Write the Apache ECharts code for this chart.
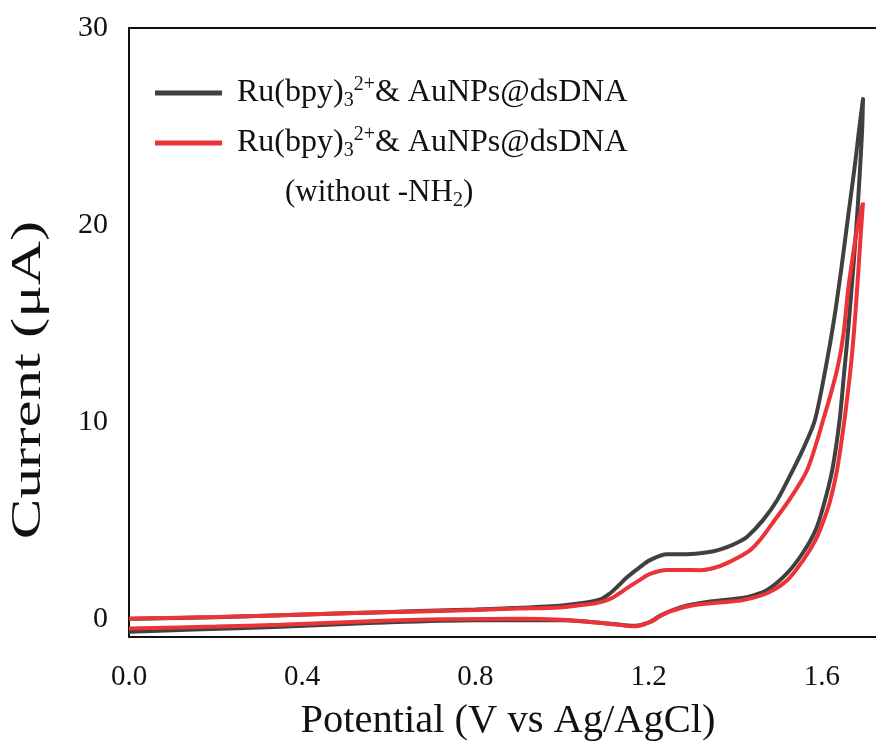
<!DOCTYPE html>
<html>
<head>
<meta charset="utf-8">
<script src="https://cdn.jsdelivr.net/npm/echarts@6/dist/echarts.min.js"></script>
<style>
  html, body { margin: 0; padding: 0; background: #fff; }
  #box { width: 876px; height: 753px; }
</style>
</head>
<body>
<div id="box"></div>
<script>
// forward scan (0 -> 1.7 V) and reverse scan (1.7 -> 0 V), [potential, current]
var blackForward = [
  [0, 0.02], [0.2, 0.1], [0.35, 0.2], [0.5, 0.3], [0.67, 0.42], [0.8, 0.5],
  [0.9, 0.58], [1.0, 0.7], [1.06, 0.86], [1.09, 1.02], [1.11, 1.3], [1.13, 1.7],
  [1.15, 2.13], [1.18, 2.65], [1.203, 3.0], [1.242, 3.3], [1.28, 3.3], [1.319, 3.35],
  [1.35, 3.45], [1.381, 3.66], [1.41, 3.95], [1.427, 4.17], [1.464, 5.03], [1.497, 6.05],
  [1.533, 7.57], [1.56, 8.8], [1.584, 10.11], [1.61, 12.9], [1.628, 15.19], [1.645, 17.8],
  [1.661, 20.5], [1.677, 23.17], [1.686, 24.85], [1.695, 26.4]
]
var blackReverse = [
  [1.695, 26.4], [1.693, 24.85], [1.689, 23.2], [1.683, 21.0], [1.676, 18.8], [1.668, 16.6],
  [1.660, 14.5], [1.651, 12.4], [1.641, 10.11], [1.624, 7.57], [1.603, 5.7], [1.585, 4.5],
  [1.557, 3.4], [1.520, 2.34], [1.473, 1.47], [1.44, 1.2], [1.411, 1.07], [1.342, 0.9],
  [1.30, 0.75], [1.273, 0.6], [1.25, 0.42], [1.226, 0.18], [1.21, -0.05], [1.196, -0.2],
  [1.18, -0.3], [1.164, -0.33], [1.12, -0.24], [1.072, -0.15], [1.0, -0.05], [0.8, -0.05],
  [0.57, -0.18], [0.35, -0.38], [0.15, -0.52], [0, -0.64]
]
var redForward = [
  [0, 0.03], [0.2, 0.12], [0.35, 0.2], [0.5, 0.3], [0.67, 0.4], [0.8, 0.47],
  [0.9, 0.54], [0.995, 0.6], [1.04, 0.71], [1.08, 0.82], [1.11, 1.02], [1.13, 1.28],
  [1.15, 1.58], [1.18, 2.0], [1.203, 2.3], [1.242, 2.5], [1.28, 2.5], [1.319, 2.49],
  [1.35, 2.6], [1.381, 2.85], [1.434, 3.5], [1.46, 4.1], [1.49, 5.0], [1.526, 6.1],
  [1.566, 7.57], [1.603, 10.11], [1.635, 12.65], [1.65, 14.5], [1.661, 16.8], [1.672, 18.5],
  [1.681, 19.77], [1.695, 21.14]
]
var redReverse = [
  [1.695, 21.14], [1.690, 19.6], [1.684, 17.6], [1.677, 15.4], [1.669, 13.3], [1.660, 11.5],
  [1.649, 9.6], [1.635, 7.57], [1.619, 6.0], [1.603, 4.95], [1.585, 4.0], [1.557, 3.0],
  [1.520, 1.98], [1.473, 1.32], [1.418, 0.97], [1.38, 0.88], [1.342, 0.81], [1.30, 0.7],
  [1.273, 0.56], [1.25, 0.4], [1.226, 0.15], [1.21, -0.08], [1.196, -0.2], [1.18, -0.32],
  [1.164, -0.36], [1.13, -0.28], [1.072, -0.15], [1.0, -0.02], [0.9, 0.03], [0.75, 0.0],
  [0.67, -0.02], [0.5, -0.15], [0.35, -0.28], [0.2, -0.37], [0, -0.47]
]
var yTickValues = [0, 10, 20, 30]
var seriesNames = ['Ru(bpy)3 2+ & AuNPs@dsDNA', 'Ru(bpy)3 2+ & AuNPs@dsDNA (without -NH2)']

var font = 'Liberation Serif'
var ink = '#111'
var frame = { show: true, onZero: false, lineStyle: { color: ink, width: 2 } }

var chart = echarts.init(document.getElementById('box'))

chart.setOption({
    animation: false,
    grid: {
        left: 129,
        top: 28,
        right: 0,
        bottom: 116
    },
    legend: {
        orient: 'vertical',
        left: 155,
        top: 75,
        padding: 0,
        icon: 'rect',
        itemWidth: 67,
        itemHeight: 5,
        itemGap: 14,
        selectedMode: false,
        data: seriesNames,
        formatter: function () {
            return '{a|Ru(bpy)}{sub|3}{sup|2+}{t|& AuNPs@dsDNA}'
        },
        textStyle: {
            fontFamily: font,
            fontSize: 32,
            color: ink,
            lineHeight: 36,
            rich: {
                a: { fontFamily: font, fontSize: 32, lineHeight: 36, color: ink, padding: [0, 0, 0, 10] },
                t: { fontFamily: font, fontSize: 32, lineHeight: 36, color: ink },
                sub: { fontFamily: font, fontSize: 20, lineHeight: 16, color: ink, verticalAlign: 'bottom' },
                sup: { fontFamily: font, fontSize: 20, lineHeight: 18, color: ink, verticalAlign: 'top' }
            }
        }
    },
    xAxis: [
        {
            type: 'value',
            min: 0,
            max: 1.725,
            interval: 0.4,
            name: 'Potential (V vs Ag/AgCl)',
            nameLocation: 'middle',
            nameGap: 64,
            nameTextStyle: { fontFamily: font, fontSize: 40.5, color: ink, padding: [0, 0, 0, 11] },
            axisLine: frame,
            axisTick: { show: false },
            splitLine: { show: false },
            axisLabel: {
                showMaxLabel: false,
                margin: 26,
                fontFamily: font,
                fontSize: 29,
                color: ink,
                formatter: function (v) { return v.toFixed(1) }
            }
        },
        {
            type: 'value',
            position: 'top',
            min: 0,
            max: 1.725,
            axisLine: frame,
            axisTick: { show: false },
            axisLabel: { show: false },
            splitLine: { show: false }
        }
    ],
    yAxis: {
        type: 'value',
        min: -0.9,
        max: 30,
        axisLine: frame,
        axisTick: { show: false },
        splitLine: { show: false },
        axisLabel: {
            customValues: yTickValues,
            margin: 21,
            fontFamily: font,
            fontSize: 30,
            color: ink
        }
    },
    graphic: [
        {
            type: 'text',
            x: 29,
            y: 380,
            rotation: Math.PI / 2,
            scaleX: 1.45,
            style: {
                text: 'Current (μA)',
                font: '42px "Liberation Serif"',
                fill: ink,
                align: 'center',
                verticalAlign: 'middle'
            }
        },
        {
            type: 'text',
            left: 285,
            top: 175,
            style: {
                text: '(without -NH{s|2})',
                font: '31px "Liberation Serif"',
                fill: ink,
                rich: {
                    s: { fontFamily: font, fontSize: 20, lineHeight: 16, fill: ink, verticalAlign: 'bottom' }
                },
                lineHeight: 36
            }
        }
    ],
    series: [
        {
            name: seriesNames[0],
            type: 'line',
            data: blackForward.concat(blackReverse.slice(1)),
            symbol: 'none',
            smooth: 0.3,
            color: '#404040',
            lineStyle: { width: 4, color: '#404040' }
        },
        {
            name: seriesNames[1],
            type: 'line',
            data: redForward.concat(redReverse.slice(1)),
            symbol: 'none',
            smooth: 0.3,
            color: '#ec3338',
            lineStyle: { width: 4, color: '#ec3338' }
        }
    ]
})
</script>
</body>
</html>
